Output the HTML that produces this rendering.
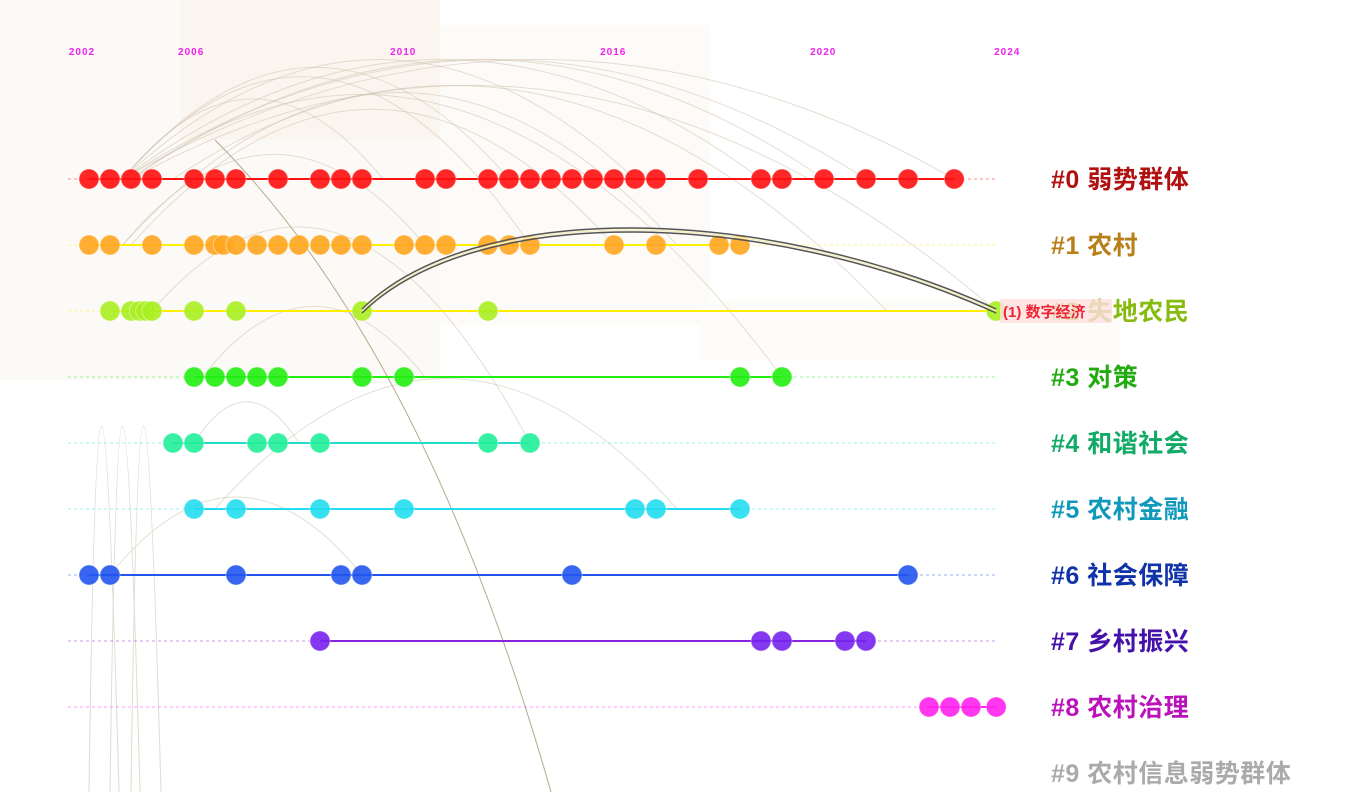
<!DOCTYPE html>
<html><head><meta charset="utf-8">
<style>
html,body{margin:0;padding:0;background:#fff;}
svg{display:block;font-family:"Liberation Sans","Noto Sans CJK SC",sans-serif;}
</style></head>
<body>
<svg id="chart" width="1354" height="792" viewBox="0 0 1354 792" xmlns="http://www.w3.org/2000/svg">
<g>
<rect x="0" y="0" width="440" height="380" fill="#fcfaf6"/>
<rect x="180" y="0" width="260" height="140" fill="#faf6ef"/>
<rect x="440" y="25" width="270" height="300" fill="#fdfbf8"/>
<rect x="700" y="300" width="420" height="60" fill="#fdfcf9"/>
</g>
<g id="arcs"></g>
<g id="axis"></g>
<g id="rows"></g>
<g id="labels"></g>
</svg>
<script>
const tickLabels = ["2002","2006","2010","2016","2020","2024"];
const tickYears = [2001.52,2004.12,2009.17,2014.17,2019.17,2023.55];
const clusterNames = ["#0 弱势群体","#1 农村","#2 失地农民","#3 对策","#4 和谐社会","#5 农村金融","#6 社会保障","#7 乡村振兴","#8 农村治理","#9 农村信息弱势群体"];
const row0 = [2002,2002.5,2003,2003.5,2004.5,2005,2005.5,2006.5,2007.5,2008,2008.5,2010,2010.5,2011.5,2012,2012.5,2013,2013.5,2014,2014.5,2015,2015.5,2016.5,2018,2018.5,2019.5,2020.5,2021.5,2022.6];
const row1 = [2002,2002.5,2003.5,2004.5,2005,2005.2,2005.5,2006,2006.5,2007,2007.5,2008,2008.5,2009.5,2010,2010.5,2011.5,2012,2012.5,2014.5,2015.5,2017,2017.5];
const row2 = [2002.5,2003,2003.2,2003.35,2003.5,2004.5,2005.5,2008.5,2011.5,2023.6];
const row3 = [2004.5,2005,2005.5,2006,2006.5,2008.5,2009.5,2017.5,2018.5];
const row4 = [2004,2004.5,2006,2006.5,2007.5,2011.5,2012.5];
const row5 = [2004.5,2005.5,2007.5,2009.5,2015,2015.5,2017.5];
const row6 = [2002,2002.5,2005.5,2008,2008.5,2013.5,2021.5];
const row7 = [2007.5,2018,2018.5,2020,2020.5];
const row8 = [2022,2022.5,2023,2023.6];
const row9 = [];
const rowsData = [row0,row1,row2,row3,row4,row5,row6,row7,row8,row9];
const arcFrom = [[0,2002.8],[0,2002.8],[0,2002.8],[0,2002.8],[0,2002.8],[0,2002.8],[1,2002.8],[1,2002.8],[0,2003],[0,2003],[2,2003.5],[3,2004.7],[4,2004.5],[6,2002.5],[5,2005],[0,2002.8],[0,2004],[0,2003],[1,2003]];
const arcTo = [[0,2022.6],[0,2020.5],[0,2018],[0,2015],[0,2012],[0,2009],[1,2010],[1,2016],[2,2023.6],[3,2018.5],[4,2012.5],[3,2010],[4,2007],[6,2008.5],[5,2016],[1,2012.5],[2,2021],[0,2019.5],[1,2014.5]];
const rowColors = ["#ff1010","#ffa520","#aaee22","#22ee11","#22ee99","#22ddee","#2255ee","#7722ee","#ff22ee","#bbbbbb"];
const lineColors = ["#ff1010","#ffee00","#ffee00","#22ee11","#22ddcc","#22ddee","#2255ee","#8822dd","#ff22ee","#cccccc"];
const labelColors = ["#b01010","#b8801a","#88bb10","#22aa11","#11aa66","#1199bb","#1133aa","#4411aa","#bb11bb","#aaaaaa"];

const NS="http://www.w3.org/2000/svg";
const xs = y => 89 + (y-2002)*42;
const ys = r => 179 + r*66;
function mk(tag,attrs,parent){const e=document.createElementNS(NS,tag);for(const k in attrs)e.setAttribute(k,attrs[k]);parent.appendChild(e);return e;}

const axis=document.getElementById('axis');
tickLabels.forEach((t,i)=>{
  const e=mk('text',{x:xs(tickYears[i]),y:55,'font-size':10,'font-weight':'bold',fill:'#ee22ee','letter-spacing':1},axis);
  
  
  e.textContent=t;
});

const arcs=document.getElementById('arcs');
arcFrom.forEach((f,i)=>{
  const t=arcTo[i];
  const x1=xs(f[1]),y1=ys(f[0]),x2=xs(t[1]),y2=ys(t[0]);
  const h=Math.abs(x2-x1)*0.25+15;
  const p=mk('path',{d:`M${x1},${y1} Q${(x1+x2)/2},${Math.max(Math.min(y1,y2)-h*2,-60)} ${x2},${y2}`,fill:'none',stroke:'#cfc3b0','stroke-width':1,opacity:0.55},arcs);
  
  
});
[2002,2002.5,2003].forEach(y=>{
  const p=mk('path',{d:`M${xs(y)},792 Q${xs(y)+10},60 ${xs(y)+30},792`,fill:'none',stroke:'#e2dbcf','stroke-width':1},arcs);
  
  
});
{
  const p=mk('path',{d:`M${xs(2005)},140 Q${xs(2010)},350 ${xs(2013)},792`,fill:'none',stroke:'#b8a890','stroke-width':1},arcs);
  
  
}

const rows=document.getElementById('rows');
rowsData.forEach((d,r)=>{
  const y=ys(r);
  const g=mk('g',{},rows);
  
  
  if(r<9){
    const dl=mk('line',{x1:68,x2:997,y1:y,y2:y,stroke:lineColors[r],'stroke-width':1,'stroke-dasharray':'3,3',opacity:0.45},g);
    
    
  }
  if(d.length>1){
    const sl=mk('line',{x1:xs(d[0]),x2:xs(d[d.length-1]),y1:y,y2:y,stroke:lineColors[r],'stroke-width':2},g);
    
    
  }
  d.forEach(v=>{
    const c=mk('circle',{cx:xs(v),cy:y,r:10,fill:rowColors[r],'fill-opacity':0.9,stroke:'#fff','stroke-width':0.8,'stroke-opacity':0.5},g);
    
    
  });
});
{
  const x1=xs(row2[7]),x2=xs(row2[9]),y=ys(2);
  ['#555','#f4efc0','#555'].forEach((col,i)=>{
    const p=mk('path',{d:`M${x1},${y-2+i*2} C${x1+110},${y-110+i*2} ${x2-240},${y-110+i*2} ${x2},${y-2+i*2}`,fill:'none',stroke:col,'stroke-width':1.5},rows);
    
    
  });
}

const labels=document.getElementById('labels');
clusterNames.forEach((n,r)=>{
  const e=mk('text',{x:1051,y:ys(r)+9,'font-size':25,'font-weight':'bold',fill:labelColors[r],'letter-spacing':0.5},labels);
  
  
  e.textContent=n;
});
{
  const bg=mk('rect',{x:1000,y:ys(2)-12,width:112,height:24,fill:'#ffe0e0',opacity:0.8},labels);
  
  
  const t=mk('text',{x:1003,y:ys(2)+6,'font-size':15,'font-weight':'bold',fill:'#ee2233'},labels);
  
  
  t.textContent='(1) 数字经济';
}
</script>
</body></html>
